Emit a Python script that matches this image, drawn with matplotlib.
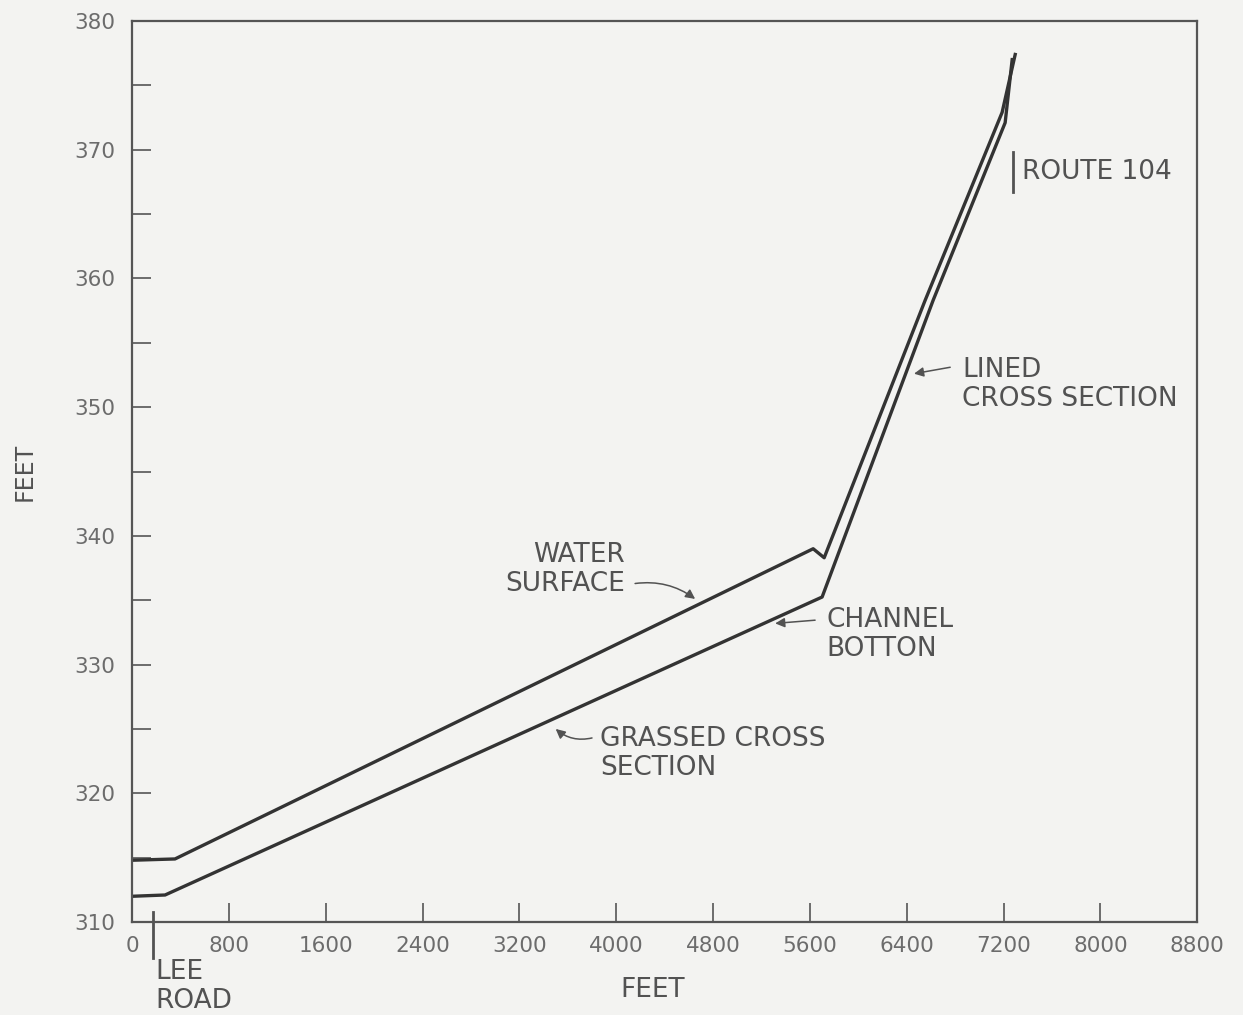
"""
Water surface and channel bottom profile, Lee Road to Route 104.
"""

import matplotlib
matplotlib.use("Agg")
import matplotlib.pyplot as plt
from matplotlib.ticker import MultipleLocator

# profile stations (ft) and elevations (ft)
water_x = [0, 355, 5627, 5718, 6552, 7188, 7296]
water_y = [314.8, 314.9, 339.0, 338.3, 358.3, 372.9, 377.4]
bottom_x = [0, 273, 5701, 6618, 7213, 7271]
bottom_y = [312.0, 312.1, 335.25, 358.3, 372.1, 377.0]

LEE_ROAD_FT = 175
ROUTE_104_FT = 7280

xticks = [0, 800, 1600, 2400, 3200, 4000, 4800, 5600, 6400, 7200, 8000, 8800]
yticks = [310, 320, 330, 340, 350, 360, 370, 380]

BG = "#f3f3f1"
INK = "#333333"
TXT = "#525252"
TICK_TXT = "#6c6c6c"
FS = 19
LS = 1.15

plt.rcParams["font.family"] = ["DejaVu Sans"]

fig = plt.figure(figsize=(12.43, 10.15), dpi=100, facecolor=BG)
ax = fig.add_axes([0.1062, 0.0916, 0.8570, 0.8877], facecolor=BG)

ax.plot(water_x, water_y, color=INK, lw=2.4, solid_joinstyle="round")
ax.plot(bottom_x, bottom_y, color=INK, lw=2.4, solid_joinstyle="round")

ax.set_xlim(0, 8800)
ax.set_ylim(310, 380)
ax.set_xticks(xticks)
ax.set_yticks(yticks)
ax.yaxis.set_minor_locator(MultipleLocator(5))
ax.tick_params(axis="x", direction="in", length=14, width=1.2, color="#555555",
               pad=10, labelsize=15.5, labelcolor=TICK_TXT)
ax.tick_params(axis="y", which="both", direction="in", length=14, width=1.2,
               color="#555555", pad=12, labelsize=15.5, labelcolor=TICK_TXT)
for s in ax.spines.values():
    s.set_color("#555555")
    s.set_linewidth(1.6)

# callouts
arrow = dict(arrowstyle="-|>", color=TXT, lw=1.1, mutation_scale=14, shrinkA=0, shrinkB=0)

ax.text(4072, 337.35, "WATER\nSURFACE", ha="right", va="center", fontsize=FS,
        color=TXT, linespacing=LS)
ax.annotate("", xy=(4652, 335.1), xytext=(4156, 336.3),
            arrowprops=dict(arrow, connectionstyle="arc3,rad=-0.2"))

ax.text(5734, 332.3, "CHANNEL\nBOTTON", ha="left", va="center", fontsize=FS,
        color=TXT, linespacing=LS)
ax.annotate("", xy=(5313, 333.2), xytext=(5643, 333.45), arrowprops=arrow)

ax.text(6858, 351.75, "LINED\nCROSS SECTION", ha="left", va="center", fontsize=FS,
        color=TXT, linespacing=LS)
ax.annotate("", xy=(6460, 352.6), xytext=(6759, 353.1), arrowprops=arrow)

ax.text(3867, 323.1, "GRASSED CROSS\nSECTION", ha="left", va="center", fontsize=FS,
        color=TXT, linespacing=LS)
ax.annotate("", xy=(3500, 325.0), xytext=(3800, 324.3),
            arrowprops=dict(arrow, connectionstyle="arc3,rad=-0.25"))

# station markers
ax.plot([ROUTE_104_FT, ROUTE_104_FT], [366.7, 369.8], color=TXT, lw=2.0)
ax.text(ROUTE_104_FT + 70, 368.3, "ROUTE 104", ha="left", va="center",
        fontsize=FS, color=TXT)

ax.plot([LEE_ROAD_FT, LEE_ROAD_FT], [310.8, 307.2], color=TXT, lw=2.0, clip_on=False)
ax.text(LEE_ROAD_FT + 15, 305.0, "LEE\nROAD", ha="left", va="center", fontsize=FS,
        color=TXT, linespacing=LS, clip_on=False)

fig.text(653 / 1243, 1 - 990 / 1015, "FEET", ha="center", va="center",
         fontsize=FS, color=TXT)
fig.text(25 / 1243, 1 - 472 / 1015, "FEET", ha="center", va="center",
         rotation=90, fontsize=17, color=TXT)

fig.savefig("out.png", dpi=100, facecolor=BG)
